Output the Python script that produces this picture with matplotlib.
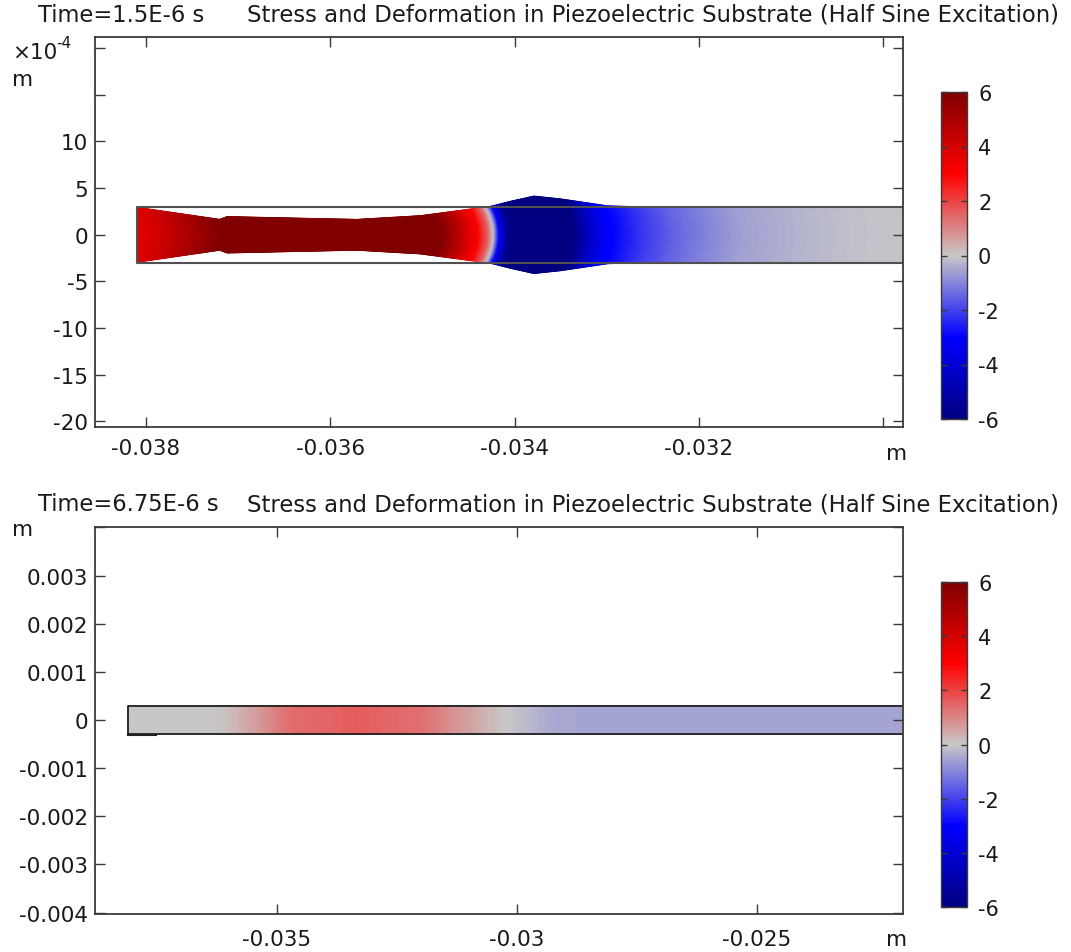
import numpy as np
import matplotlib.pyplot as plt
from matplotlib.colors import LinearSegmentedColormap, Normalize

plt.rcParams["font.family"] = "DejaVu Sans"
plt.rcParams["axes.unicode_minus"] = False

W, H = 1071, 953

# substrate geometry (m)
x_start = -0.0381
x_end = -0.0210
half_thick = 3e-4

# t = 1.5E-6 s : deformed half thickness along x (exaggerated)
top_shape_x = [-0.0381, -0.03720, -0.03712, -0.03643, -0.03571, -0.03502,
               -0.03445, -0.03426, -0.03404, -0.03379, -0.03350, -0.03299,
               -0.03263, -0.0210]
top_shape_h = [2.95e-4, 1.65e-4, 1.95e-4, 1.80e-4, 1.65e-4, 2.05e-4,
               2.80e-4, 3.05e-4, 3.60e-4, 4.15e-4, 3.85e-4, 3.10e-4,
               3.00e-4, 3.00e-4]

# t = 1.5E-6 s : stress along the substrate centre
top_field_x = [-0.0381, -0.03788, -0.03752, -0.03720, -0.03698, -0.03491,
               -0.03480, -0.03459, -0.03440, -0.03429, -0.03423, -0.03417,
               -0.03408, -0.03393, -0.03336, -0.03321, -0.03303, -0.03263,
               -0.03227, -0.03190, -0.03154, -0.03089, -0.03024, -0.02977,
               -0.0210]
top_field_v = [3.6, 4.0, 5.0, 5.9, 6.5, 6.5, 6.0, 4.5, 3.0, 1.5, 0.0, -3.0,
               -5.5, -6.5, -6.0, -4.5, -3.2, -2.2, -1.5, -1.0, -0.6, -0.3,
               -0.1, -0.05, 0.0]
front_bend = 0.8e-4   # wave front lags at the surfaces

# t = 6.75E-6 s : stress along the substrate
bot_field_x = [-0.0381, -0.03613, -0.03542, -0.03473, -0.03333, -0.03196,
               -0.03125, -0.03021, -0.02917, -0.02785, -0.0210]
bot_field_v = [0.0, 0.05, 0.65, 1.35, 1.6, 1.3, 0.75, 0.0, -0.5, -0.55, -0.55]
bot_edge_x = [-0.0381, -0.03752]
bot_edge_y = [-3.1e-4, -3.1e-4]

cbar_ticks = [-6, -4, -2, 0, 2, 4, 6]

top_xticks = [-0.038, -0.036, -0.034, -0.032, -0.030]
top_xlabels = ["-0.038", "-0.036", "-0.034", "-0.032", ""]
top_yticks = [-20, -15, -10, -5, 0, 5, 10, 15, 20]
top_ylabels = ["-20", "-15", "-10", "-5", "0", "5", "10", "", ""]

bot_xticks = [-0.035, -0.030, -0.025]
bot_xlabels = ["-0.035", "-0.03", "-0.025"]
bot_yticks = [-0.004, -0.003, -0.002, -0.001, 0, 0.001, 0.002, 0.003, 0.004]
bot_ylabels = ["-0.004", "-0.003", "-0.002", "-0.001", "0", "0.001", "0.002",
               "0.003", ""]

title = "Stress and Deformation in Piezoelectric Substrate (Half Sine Excitation)"

cmap = LinearSegmentedColormap.from_list(
    "wave", [(0.0, "#000080"), (0.25, "#0000ff"), (0.5, "#c8c8c8"),
             (0.75, "#ff0000"), (1.0, "#800000")])
norm = Normalize(-6, 6)


def rect(l, t, r, b):
    return [l / W, 1 - b / H, (r - l) / W, (b - t) / H]


def style(ax):
    for sp in ax.spines.values():
        sp.set_color("#3a3a3a")
        sp.set_linewidth(1.3)
    ax.tick_params(direction="in", length=7, width=1, color="#3a3a3a",
                   top=True, right=True, labelsize=15.5, labelcolor="#1a1a1a")
    ax.tick_params(axis="x", pad=8)
    ax.tick_params(axis="y", pad=5)


fig = plt.figure(figsize=(W / 100, H / 100), dpi=100)

# ---------- top panel ----------
ax1 = fig.add_axes(rect(95, 38, 903, 428))
xg = np.linspace(x_start, x_end, 1500)
sg = np.linspace(-1, 1, 61)
X, S = np.meshgrid(xg, sg)
Y = S * np.interp(X, top_shape_x, top_shape_h)
C = np.interp(X + front_bend * S ** 2, top_field_x, top_field_v)
m1 = ax1.pcolormesh(X, Y, C, cmap=cmap, norm=norm, shading="gouraud")
ax1.plot([x_end, x_start, x_start, x_end],
         [half_thick, half_thick, -half_thick, -half_thick],
         color="#505050", lw=1.5)
ax1.set_xlim(-0.038554, -0.029783)
ax1.set_ylim(-20.6e-4, 21.2e-4)
ax1.set_xticks(top_xticks)
ax1.set_xticklabels(top_xlabels)
ax1.set_yticks(np.array(top_yticks) * 1e-4)
ax1.set_yticklabels(top_ylabels)
style(ax1)

cax1 = fig.add_axes(rect(941, 93, 967, 420))
cb1 = fig.colorbar(m1, cax=cax1, ticks=cbar_ticks)

# ---------- bottom panel ----------
ax2 = fig.add_axes(rect(95, 528, 903, 915))
Xb, Sb = np.meshgrid(xg, np.array([-1.0, 1.0]))
Yb = Sb * half_thick
Cb = np.interp(Xb, bot_field_x, bot_field_v)
m2 = ax2.pcolormesh(Xb, Yb, Cb, cmap=cmap, norm=norm, shading="gouraud")
ax2.plot([x_end, x_start, x_start, x_end],
         [half_thick, half_thick, -half_thick, -half_thick],
         color="#202020", lw=1.3)
ax2.plot(bot_edge_x, bot_edge_y, color="#202020", lw=1.5)
ax2.set_xlim(-0.03879, -0.02196)
ax2.set_ylim(-0.00403, 0.00401)
ax2.set_xticks(bot_xticks)
ax2.set_xticklabels(bot_xlabels)
ax2.set_yticks(bot_yticks)
ax2.set_yticklabels(bot_ylabels)
style(ax2)
ax2.tick_params(axis="x", pad=11)

cax2 = fig.add_axes(rect(941, 583, 967, 908))
cb2 = fig.colorbar(m2, cax=cax2, ticks=cbar_ticks)

for cb in (cb1, cb2):
    cb.outline.set_edgecolor("#3a3a3a")
    cb.outline.set_linewidth(1.0)
    cb.ax.tick_params(direction="in", length=4, width=1, color="#3a3a3a",
                      left=True, right=True, labelsize=15, pad=8,
                      labelcolor="#1a1a1a")
    cb.ax.set_yticklabels([str(t) for t in cbar_ticks])

# ---------- labels ----------
def ftext(px, py, s, **kw):
    fig.text(px / W, 1 - py / H, s, color="#1a1a1a", **kw)


ftext(38, 15, "Time=1.5E-6 s", fontsize=16.3, va="center")
ftext(247, 15, title, fontsize=16.4, va="center")
ftext(38, 505, "Time=6.75E-6 s", fontsize=16.3, va="center")
ftext(247, 505, title, fontsize=16.4, va="center")

ftext(12, 53, "×10", fontsize=15.5, va="center")
ftext(56, 43, "-4", fontsize=11, va="center")
ftext(12, 80, "m", fontsize=15.5, va="center")
ftext(12, 530, "m", fontsize=15.5, va="center")

ftext(897, 454, "m", fontsize=15.5, va="center", ha="center")
ftext(897, 940, "m", fontsize=15.5, va="center", ha="center")

fig.savefig("out.png", dpi=100)
